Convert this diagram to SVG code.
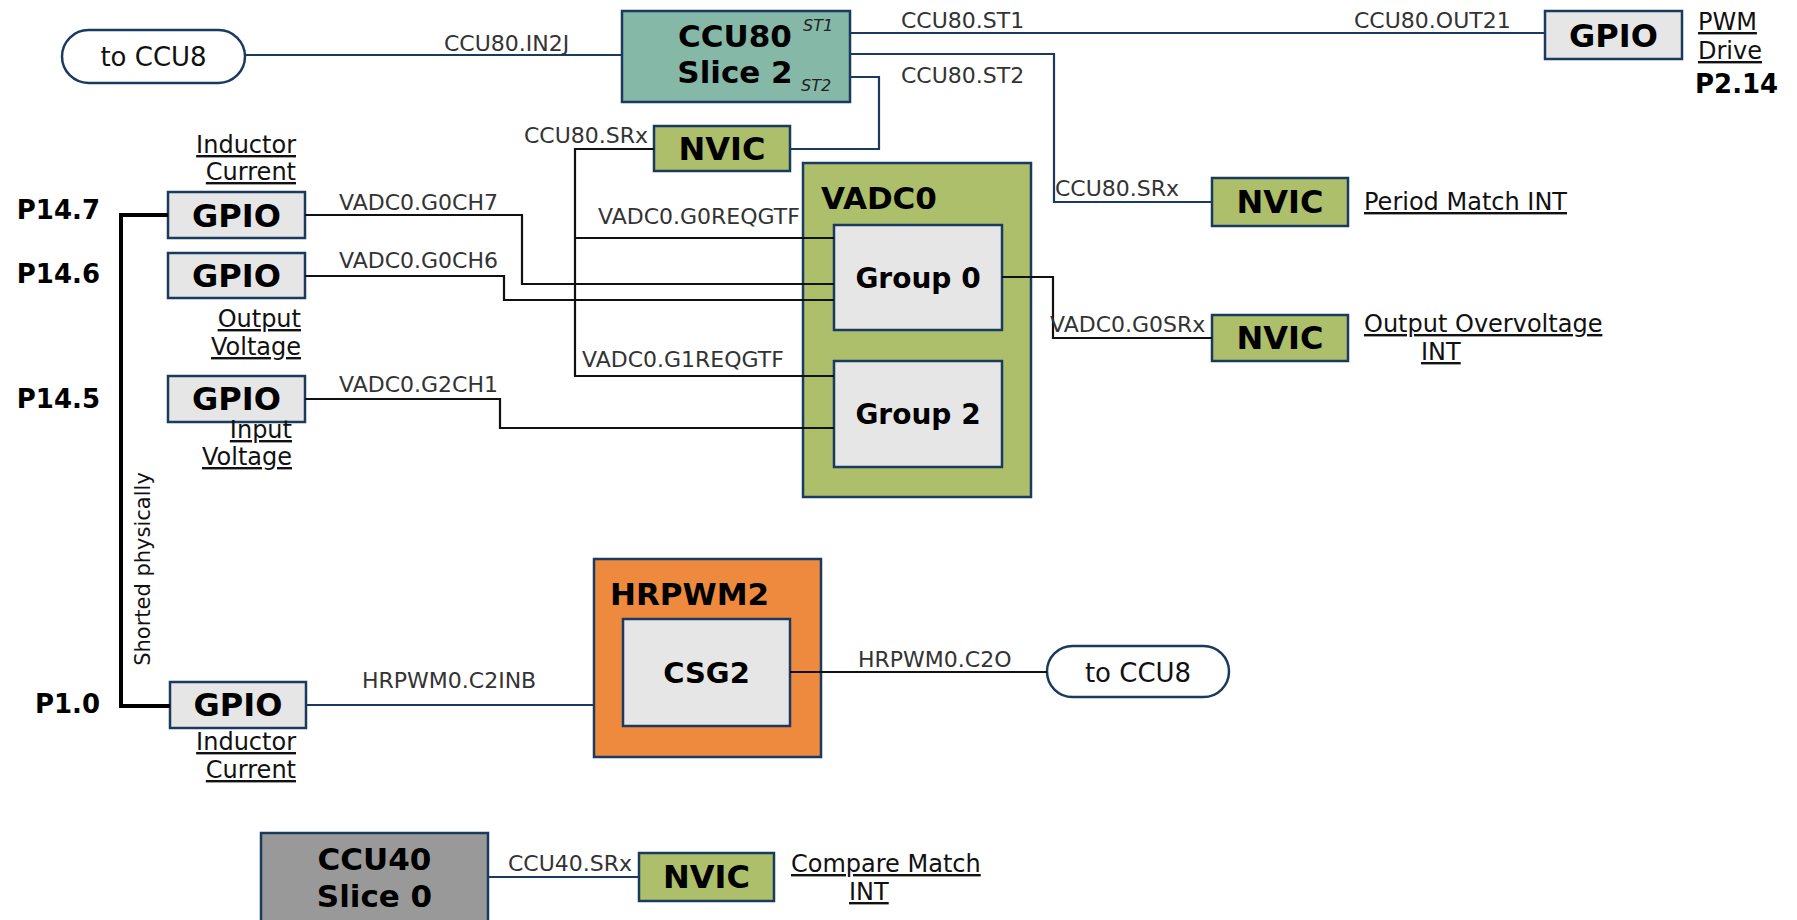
<svg xmlns="http://www.w3.org/2000/svg" width="1797" height="920" viewBox="0 0 1797 920">
  <style>
    text { font-family: "DejaVu Sans", Verdana, sans-serif; }
    .box { stroke: #1b3a5f; stroke-width: 2.5; }
    .gpio, .grp { fill: #e7e6e6; }
    .nvic, .vadc { fill: #adbf6b; }
    .ccu8 { fill: #86b8a8; }
    .hr { fill: #ee8a3e; }
    .ccu4 { fill: #999999; }
    .pill { fill: #ffffff; stroke: #1b3a5f; stroke-width: 2.5; }
    .bt { font-weight: bold; fill: #000; }
    .b32 { font-size: 32px; text-anchor: middle; }
    .b31 { font-size: 31px; }
    .pin { font-weight: bold; font-size: 26px; fill: #000; }
    .lbl { font-size: 22px; fill: #333; }
    .note { font-size: 24px; fill: #111; text-decoration: underline; }
    .st { font-size: 16px; font-style: italic; fill: #222; }
    .nv { fill: none; stroke: #1b3a5f; stroke-width: 2.2; }
    .bk { fill: none; stroke: #111; stroke-width: 2.2; }
    .thick { fill: none; stroke: #000; stroke-width: 4; }
  </style>

  <!-- off-page references -->
  <g id="to-ccu8-top">
    <rect class="pill" x="62" y="30" width="183" height="53" rx="26.5"/>
    <text x="153.5" y="66" font-size="26" text-anchor="middle" fill="#111">to CCU8</text>
  </g>
  <g id="to-ccu8-bottom">
    <rect class="pill" x="1047" y="646" width="182" height="51" rx="25.5"/>
    <text x="1138" y="682" font-size="26" text-anchor="middle" fill="#111">to CCU8</text>
  </g>

  <!-- CCU80 slice 2 -->
  <g id="ccu80-slice2">
    <rect class="box ccu8" x="622" y="11" width="228" height="91"/>
    <text class="bt b31" x="735" y="47" text-anchor="middle">CCU80</text>
    <text class="bt b31" x="735" y="83" text-anchor="middle">Slice 2</text>
    <text class="st" x="803" y="31">ST1</text>
    <text class="st" x="801" y="91">ST2</text>
  </g>

  <!-- PWM drive pin -->
  <g id="gpio-p2-14">
    <rect class="box gpio" x="1545" y="11" width="137" height="48"/>
    <text class="bt b32" x="1613.5" y="47">GPIO</text>
    <text class="note" x="1698" y="30">PWM</text>
    <text class="note" x="1698" y="59">Drive</text>
    <text class="pin" x="1695" y="93">P2.14</text>
  </g>

  <!-- interrupt nodes -->
  <g id="nvic-ccu80-sr">
    <rect class="box nvic" x="654" y="126" width="136" height="45"/>
    <text class="bt b32" x="722" y="160">NVIC</text>
  </g>
  <g id="nvic-period-match">
    <rect class="box nvic" x="1212" y="178" width="136" height="48"/>
    <text class="bt b32" x="1280" y="213">NVIC</text>
    <text class="note" x="1364" y="210">Period Match INT</text>
  </g>
  <g id="nvic-overvoltage">
    <rect class="box nvic" x="1212" y="315" width="136" height="46"/>
    <text class="bt b32" x="1280" y="349">NVIC</text>
    <text class="note" x="1364" y="332">Output Overvoltage</text>
    <text class="note" x="1421" y="360">INT</text>
  </g>
  <g id="nvic-compare-match">
    <rect class="box nvic" x="639" y="853" width="135" height="48"/>
    <text class="bt b32" x="706.5" y="888">NVIC</text>
    <text class="note" x="791" y="872">Compare Match</text>
    <text class="note" x="849" y="900">INT</text>
  </g>

  <!-- ADC input pins -->
  <g id="gpio-p14-7">
    <rect class="box gpio" x="168" y="192" width="137" height="46"/>
    <text class="bt b32" x="236.5" y="226.5">GPIO</text>
    <text class="pin" x="100" y="219" text-anchor="end">P14.7</text>
    <text class="note" x="296" y="153" text-anchor="end">Inductor</text>
    <text class="note" x="296" y="180" text-anchor="end">Current</text>
  </g>
  <g id="gpio-p14-6">
    <rect class="box gpio" x="168" y="253" width="137" height="45"/>
    <text class="bt b32" x="236.5" y="287">GPIO</text>
    <text class="pin" x="100" y="283" text-anchor="end">P14.6</text>
    <text class="note" x="301" y="327" text-anchor="end">Output</text>
    <text class="note" x="301" y="355" text-anchor="end">Voltage</text>
  </g>
  <g id="gpio-p14-5">
    <rect class="box gpio" x="168" y="376" width="137" height="46"/>
    <text class="bt b32" x="236.5" y="410">GPIO</text>
    <text class="pin" x="100" y="408" text-anchor="end">P14.5</text>
    <text class="note" x="292" y="438" text-anchor="end">Input</text>
    <text class="note" x="292" y="465" text-anchor="end">Voltage</text>
  </g>
  <g id="gpio-p1-0">
    <rect class="box gpio" x="170" y="682" width="136" height="46"/>
    <text class="bt b32" x="238" y="716">GPIO</text>
    <text class="pin" x="100" y="713" text-anchor="end">P1.0</text>
    <text class="note" x="296" y="750" text-anchor="end">Inductor</text>
    <text class="note" x="296" y="778" text-anchor="end">Current</text>
  </g>

  <!-- VADC0 with its groups -->
  <g id="vadc0">
    <rect class="box vadc" x="803" y="163" width="228" height="334"/>
    <text class="bt b31" x="821" y="209">VADC0</text>
  </g>
  <g id="vadc0-group0">
    <rect class="box grp" x="834" y="225" width="168" height="105"/>
    <text class="bt" x="918" y="288" font-size="28" text-anchor="middle">Group 0</text>
  </g>
  <g id="vadc0-group2">
    <rect class="box grp" x="834" y="361" width="168" height="106"/>
    <text class="bt" x="918" y="424" font-size="28" text-anchor="middle">Group 2</text>
  </g>

  <!-- HRPWM with comparator slice -->
  <g id="hrpwm2">
    <rect class="box hr" x="594" y="559" width="227" height="198"/>
    <text class="bt b31" x="610" y="605">HRPWM2</text>
  </g>
  <g id="hrpwm2-csg2">
    <rect class="box grp" x="623" y="619" width="167" height="107"/>
    <text class="bt" x="706.5" y="683" font-size="29" text-anchor="middle">CSG2</text>
  </g>

  <!-- CCU40 slice 0 -->
  <g id="ccu40-slice0">
    <rect class="box ccu4" x="261" y="833" width="227" height="95"/>
    <text class="bt b31" x="374.5" y="870" text-anchor="middle">CCU40</text>
    <text class="bt b31" x="374.5" y="907" text-anchor="middle">Slice 0</text>
  </g>

  <!-- signal connections -->
  <g id="connectors">
    <path class="nv" d="M245 55 H622"/>
    <path class="nv" d="M850 33 H1545"/>
    <path class="nv" d="M850 54 H1054 V202 H1212"/>
    <path class="nv" d="M850 77 H879 V149 H790"/>
    <path class="bk" d="M654 149 H575 V376 H834"/>
    <path class="bk" d="M575 238 H834"/>
    <path class="bk" d="M305 215 H522 V284 H834"/>
    <path class="bk" d="M305 276 H504 V300 H834"/>
    <path class="bk" d="M305 399 H500 V428 H834"/>
    <path class="bk" d="M1002 277 H1053 V338 H1212"/>
    <path class="bk" d="M790 672 H1047"/>
    <path class="nv" d="M306 705 H594"/>
    <path class="nv" d="M488 877 H639"/>
    <path class="thick" d="M168 215 H121 V706 H170"/>

    <text class="lbl" x="444" y="51">CCU80.IN2J</text>
    <text class="lbl" x="901" y="28">CCU80.ST1</text>
    <text class="lbl" x="1354" y="28">CCU80.OUT21</text>
    <text class="lbl" x="901" y="83">CCU80.ST2</text>
    <text class="lbl" x="1055" y="196">CCU80.SRx</text>
    <text class="lbl" x="524" y="143">CCU80.SRx</text>
    <text class="lbl" x="339" y="210">VADC0.G0CH7</text>
    <text class="lbl" x="339" y="268">VADC0.G0CH6</text>
    <text class="lbl" x="339" y="392">VADC0.G2CH1</text>
    <text class="lbl" x="598" y="224">VADC0.G0REQGTF</text>
    <text class="lbl" x="582" y="367">VADC0.G1REQGTF</text>
    <text class="lbl" x="1050" y="332">VADC0.G0SRx</text>
    <text class="lbl" x="362" y="688">HRPWM0.C2INB</text>
    <text class="lbl" x="858" y="667">HRPWM0.C2O</text>
    <text class="lbl" x="508" y="871">CCU40.SRx</text>
    <text x="150" y="569" font-size="21" fill="#111" text-anchor="middle" transform="rotate(-90 150 569)">Shorted physically</text>
  </g>
</svg>
